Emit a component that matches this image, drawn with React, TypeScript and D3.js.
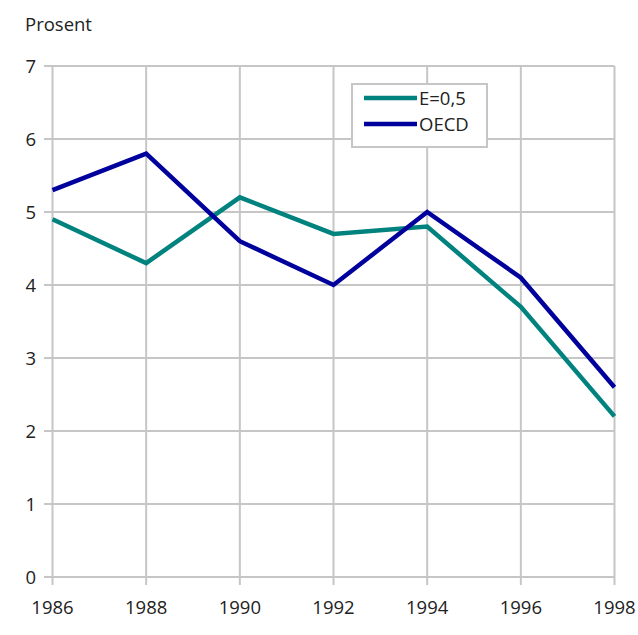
import React from "react";
import * as d3 from "d3";

const years = [1986, 1988, 1990, 1992, 1994, 1996, 1998];
const seriesE = [4.9, 4.3, 5.2, 4.7, 4.8, 3.7, 2.2];
const seriesOECD = [5.3, 5.8, 4.6, 4.0, 5.0, 4.1, 2.6];
const yTicks = [0, 1, 2, 3, 4, 5, 6, 7];
const seriesNames = ["E=0,5", "OECD"];
const colors = ["#00827f", "#00009c"];

export default function App() {
  const W = 638, H = 635;
  const x = d3.scaleLinear().domain([1986, 1998]).range([52.5, 614.5]);
  const y = d3.scaleLinear().domain([0, 7]).range([577, 66]);
  const line = d3.line<number>().x((_, i) => x(years[i])).y((d) => y(d));
  const grid = "#c6c6c6";
  const font = "'Open Sans', 'DejaVu Sans', sans-serif";
  const fs = 18.5;
  const series = [seriesE, seriesOECD];
  return (
    <svg width={W} height={H} style={{ position: "absolute", left: 0, top: 0, background: "#fff" }}>
      <text x={25} y={31} fontSize={fs} fontFamily={font} fill="#222">Prosent</text>
      {yTicks.map((t) => (
        <g key={t}>
          <line x1={44} x2={x(1998)} y1={y(t)} y2={y(t)} stroke={grid} strokeWidth={2} />
          <text x={36} y={y(t) + 6.5} fontSize={fs} fontFamily={font} textAnchor="end" fill="#222">{t}</text>
        </g>
      ))}
      {years.map((yr) => (
        <g key={yr}>
          <line x1={x(yr)} x2={x(yr)} y1={y(7)} y2={y(0) + 8} stroke={grid} strokeWidth={2} />
          <text x={x(yr)} y={614} fontSize={fs} fontFamily={font} textAnchor="middle" fill="#222">{yr}</text>
        </g>
      ))}
      {series.map((s, i) => (
        <path key={i} d={line(s) || ""} fill="none" stroke={colors[i]} strokeWidth={4.5} strokeLinejoin="miter" />
      ))}
      <rect x={352} y={84} width={135} height={63} fill="#fff" stroke={grid} strokeWidth={2} />
      {seriesNames.map((n, i) => (
        <g key={n}>
          <line x1={364} x2={417} y1={98 + i * 26} y2={98 + i * 26} stroke={colors[i]} strokeWidth={4.5} />
          <text x={419} y={98 + i * 26 + 6.5} fontSize={fs} fontFamily={font} fill="#222">{n}</text>
        </g>
      ))}
    </svg>
  );
}
